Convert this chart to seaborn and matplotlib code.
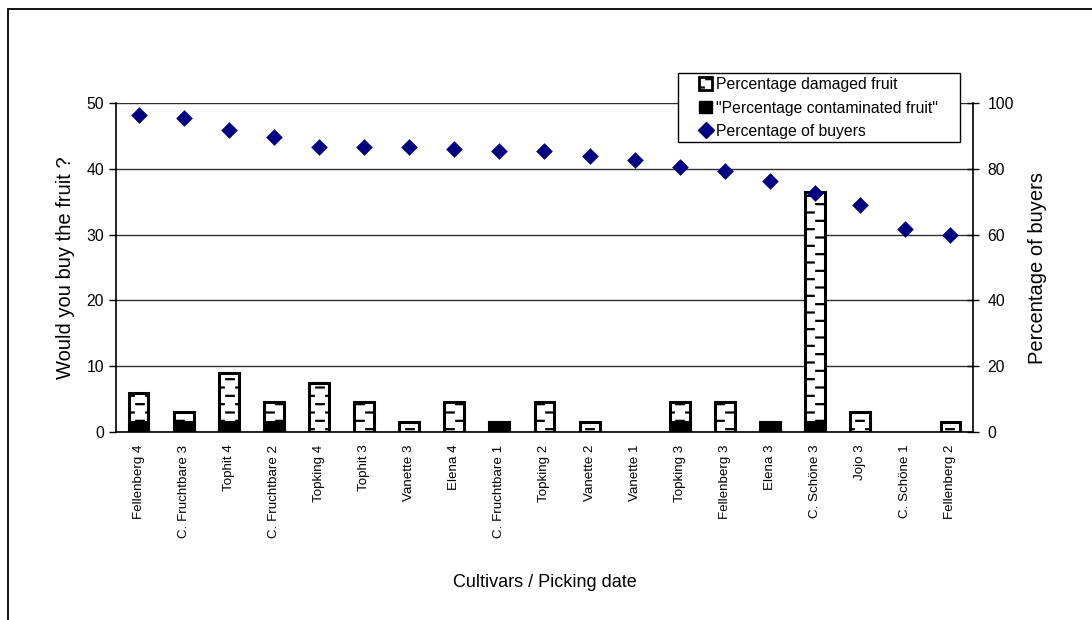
import numpy as np
import pandas as pd
import matplotlib
matplotlib.use("Agg")
import matplotlib.pyplot as plt
import matplotlib.hatch as mhatch
from matplotlib.path import Path
from matplotlib.patches import Patch, Rectangle
from matplotlib.lines import Line2D
import seaborn as sns

# ---- data -------------------------------------------------------------
cultivars = [
    "Fellenberg 4", "C. Fruchtbare 3", "Tophit 4", "C. Fruchtbare 2",
    "Topking 4", "Tophit 3", "Vanette 3", "Elena 4", "C. Fruchtbare 1",
    "Topking 2", "Vanette 2", "Vanette 1", "Topking 3", "Fellenberg 3",
    "Elena 3", "C. Schöne 3", "Jojo 3", "C. Schöne 1", "Fellenberg 2",
]
damaged = [6, 3, 9, 4.5, 7.5, 4.5, 1.5, 4.5, 1.5, 4.5,
           1.5, 0, 4.5, 4.5, 1.5, 36.4, 3, 0, 1.5]
contaminated = [1.5, 1.5, 1.5, 1.5, 0, 0, 0, 0, 1.5, 0,
                0, 0, 1.5, 0, 1.5, 1.5, 0, 0, 0]
buyers = [96.5, 95.5, 91.8, 89.7, 86.6, 86.6, 86.6, 86.0, 85.4, 85.4,
          83.9, 82.7, 80.5, 79.3, 76.3, 72.6, 69.0, 61.7, 59.9]

left_ticks = [0, 10, 20, 30, 40, 50]
right_ticks = [0, 20, 40, 60, 80, 100]

df = pd.DataFrame({"cultivar": cultivars, "damaged": damaged,
                   "contaminated": contaminated, "buyers": buyers})


# ---- staggered short-dash hatch used for the '-' pattern ---------------
class BrickDashHatch(mhatch.HatchPatternBase):
    rows = 12
    cols = 5
    dash = 0.075

    def __init__(self, hatch, density):
        self.active = hatch.count("-") > 0
        if self.active:
            half = self.rows // 2
            self.num_segments = half * self.cols + half * (self.cols + 1)
        else:
            self.num_segments = 0
        self.num_vertices = self.num_segments * 2

    def set_vertices_and_codes(self, vertices, codes):
        segs = []
        d = self.dash / 2
        for r in range(self.rows):
            y = (r + 0.5) / self.rows
            if r % 2 == 0:
                for c in range(self.cols):
                    xc = (c + 0.5) / self.cols
                    segs.append((xc - d, xc + d, y))
            else:
                for c in range(self.cols + 1):
                    xc = c / self.cols
                    segs.append((max(0.0, xc - d), min(1.0, xc + d), y))
        for i, (x0, x1, y) in enumerate(segs):
            vertices[2 * i] = (x0, y)
            vertices[2 * i + 1] = (x1, y)
            codes[2 * i] = Path.MOVETO
            codes[2 * i + 1] = Path.LINETO


mhatch._hatch_types[0] = BrickDashHatch

# ---- style --------------------------------------------------------------
sns.set_style("white")
plt.rcParams["font.family"] = ["Liberation Sans", "DejaVu Sans"]
plt.rcParams["text.color"] = "black"
plt.rcParams["axes.labelcolor"] = "black"
plt.rcParams["xtick.color"] = "black"
plt.rcParams["ytick.color"] = "black"
plt.rcParams["hatch.linewidth"] = 1.6
plt.rcParams["axes.linewidth"] = 1.2

fig = plt.figure(figsize=(10.92, 6.20), dpi=100)
ax = fig.add_axes([116 / 1092, 1 - 432 / 620, (973 - 116) / 1092, (432 - 103) / 620])

# outer chart frame
fig.patches.append(Rectangle((8 / 1092, -0.1), 1.2, 1.1 - 9 / 620,
                             transform=fig.transFigure, fill=False,
                             edgecolor="black", linewidth=1.3))

# bars
sns.barplot(data=df, x="cultivar", y="damaged", order=cultivars, ax=ax,
            color="white", saturation=1, edgecolor="black", linewidth=2.2,
            hatch="-", width=0.44, errorbar=None, zorder=2)
sns.barplot(data=df, x="cultivar", y="contaminated", order=cultivars, ax=ax,
            color="black", saturation=1, edgecolor="black", linewidth=2.2,
            width=0.44, errorbar=None, zorder=3)
# empty bars leave no outline on the baseline
for p in ax.patches:
    if p.get_height() == 0:
        p.set_visible(False)

n = len(cultivars)
ax.set_xlim(-0.5, n - 0.5)
ax.set_ylim(left_ticks[0], left_ticks[-1])
ax.set_yticks(left_ticks)
ax.set_xticks(range(n))
ax.set_xticklabels(cultivars, rotation=90, fontsize=9.6)
ax.set_xticks(np.arange(-0.5, n, 1), minor=True)
ax.tick_params(axis="x", which="major", length=0, pad=9)
ax.tick_params(axis="x", which="minor", length=6, width=1, direction="inout", color="black")
ax.tick_params(axis="y", which="major", length=5, width=1, direction="out",
               labelsize=11.3, colors="black")
ax.grid(axis="y", color="#303030", linewidth=1.0)
ax.set_axisbelow(True)
for s in ["left", "bottom"]:
    ax.spines[s].set_color("black")
ax.spines["top"].set_visible(False)
ax.spines["right"].set_visible(False)
ax.set_ylabel("Would you buy the fruit ?", fontsize=14.5, labelpad=8)
ax.set_xlabel("Cultivars / Picking date", fontsize=13, labelpad=26)

# buyers on the secondary axis
ax2 = ax.twinx()
sns.stripplot(data=df, x="cultivar", y="buyers", order=cultivars, ax=ax2,
              jitter=False, marker="D", size=8.5, color="#000080",
              linewidth=0, zorder=5)
ax2.set_xlim(-0.5, n - 0.5)
ax2.set_ylim(right_ticks[0], right_ticks[-1])
ax2.set_yticks(right_ticks)
ax2.tick_params(axis="y", which="major", length=9, width=1, direction="inout",
                labelsize=11.3, colors="black", pad=6)
ax2.set_ylabel("Percentage of buyers", fontsize=14.5, labelpad=10)
ax2.spines["right"].set_color("black")
ax2.spines["right"].set_linewidth(1.2)
for s in ["left", "bottom", "top"]:
    ax2.spines[s].set_visible(False)
ax2.set_xlabel("")

# legend with its own frame
frame = Rectangle((678 / 1092, 1 - 142 / 620), (960 - 678) / 1092, (142 - 73) / 620,
                  transform=fig.transFigure, facecolor="white", edgecolor="black",
                  linewidth=1.0, zorder=8, clip_on=False)
ax2.add_artist(frame)
handles = [
    Patch(facecolor="white", edgecolor="black", linewidth=2.0, hatch="-"),
    Patch(facecolor="black", edgecolor="black"),
    Line2D([], [], linestyle="none", marker="D", markersize=8,
           markerfacecolor="#000080", markeredgecolor="#000080"),
]
labels = ["Percentage damaged fruit", "\"Percentage contaminated fruit\"",
          "Percentage of buyers"]
leg = ax2.legend(handles, labels, loc="upper left",
                 bbox_to_anchor=(699 / 1092, 1 - 77 / 620),
                 bbox_transform=fig.transFigure, frameon=False, fontsize=11.3,
                 handlelength=0.85, handleheight=0.85, handletextpad=0.25,
                 labelspacing=0.55, borderpad=0.0, borderaxespad=0.0)
leg.set_zorder(9)

fig.savefig("out.png", dpi=100)
